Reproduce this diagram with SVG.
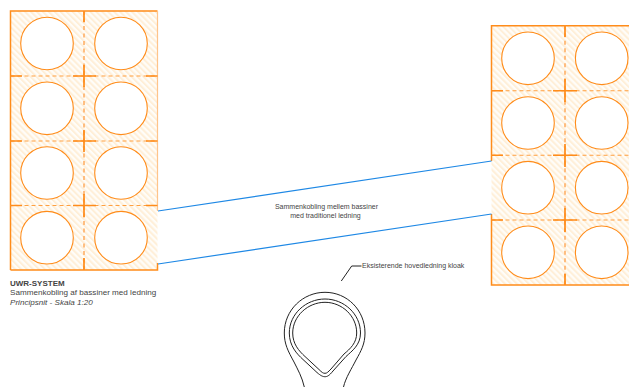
<svg xmlns="http://www.w3.org/2000/svg" width="629" height="387" viewBox="0 0 629 387">
<style>
text{font-family:"Liberation Sans",Arial,sans-serif;fill:#444}
.c{fill:#fff;stroke:#ff8c1a;stroke-width:1.1}
.s{fill:none;stroke:#ff8c1a;stroke-width:1.5}
.t{fill:none;stroke:#ff8c1a;stroke-width:1.7}
.d{fill:none;stroke:#ffa040;stroke-width:1.1;stroke-dasharray:4 3}
.v{fill:none;stroke:#ffb066;stroke-width:1.6;stroke-dasharray:4 3.500}
.b{fill:none;stroke:#1e88e5;stroke-width:1.2}
.p{fill:none;stroke:#222;stroke-width:1}
.h{fill:url(#hatch)}
</style>
<defs>
<pattern id="hatch" width="4.200" height="4.200" patternUnits="userSpaceOnUse" patternTransform="rotate(-45)">
<rect width="4.200" height="4.200" fill="#fffdf9"/>
<rect width="2" height="4.200" fill="#ffefd8"/>
</pattern>
</defs>
<g id="left-block">
<rect class="h" x="10.500" y="11" width="147" height="259"/>
<path class="s" d="M10.500 270V11H157.500"/>
<path d="M157.500 11V211" fill="none" stroke="#ffc48a" stroke-width="1.200"/>
<path class="s" d="M157.500 263V270H10.500"/>
<path class="d" d="M10.500 76H157.500M10.500 141H157.500M10.500 205.500H157.500"/>
<path class="v" d="M84 11V270"/>
<path class="s" d="M10.500 76H22M73 76H96M146 76H157.500M10.500 141H22M73 141H96M146 141H157.500M10.500 205.500H22M73 205.500H96M146 205.500H157.500"/>
<path class="t" d="M84 11V22M84 65V87M84 130V152M84 194V217M84 258V270"/>
<circle class="c" cx="47" cy="43.500" r="26.300"/><circle class="c" cx="121" cy="43.500" r="26.300"/>
<circle class="c" cx="47" cy="108.300" r="26.300"/><circle class="c" cx="121" cy="108.300" r="26.300"/>
<circle class="c" cx="47" cy="173" r="26.300"/><circle class="c" cx="121" cy="173" r="26.300"/>
<circle class="c" cx="47" cy="237.700" r="26.300"/><circle class="c" cx="121" cy="237.700" r="26.300"/>
</g>
<g id="right-block">
<rect class="h" x="491.500" y="25.700" width="138" height="259.300"/>
<path class="s" d="M491.500 161V25.700H629M491.500 214V285H629"/>
<path class="d" d="M491.500 90.700H629M491.500 155.300H629M491.500 220H629"/>
<path class="v" d="M565 25.700V285"/>
<path class="s" d="M491.500 90.700H503M553 90.700H577M491.500 155.300H503M553 155.300H577M491.500 220H503M553 220H577"/>
<path class="t" d="M565 25.700V37M565 79V102M565 144V167M565 208V232M565 274V285"/>
<circle class="c" cx="528" cy="58.300" r="26.300"/><circle class="c" cx="601.700" cy="58.300" r="26.300"/>
<circle class="c" cx="528" cy="123" r="26.300"/><circle class="c" cx="601.700" cy="123" r="26.300"/>
<circle class="c" cx="528" cy="187.700" r="26.300"/><circle class="c" cx="601.700" cy="187.700" r="26.300"/>
<circle class="c" cx="528" cy="252.300" r="26.300"/><circle class="c" cx="601.700" cy="252.300" r="26.300"/>
</g>
<g id="connectors">
<path class="b" d="M158 211L491.500 161M158 264L491.500 214"/>
<path class="p" stroke-width="0.800" d="M341.300 281L351.700 266H361.500"/>
</g>
<g id="pipe">
<path class="p" d="M304.300 387C302 377 298 370 294 362C288 351 284.300 344 284.300 333C284.300 310 303 292.300 325 292.300C347 292.300 365 310 365 333C365 344 361 351 356 360C352 368 345.500 378 343.500 387"/>
<path class="p" d="M289.300 333C289.300 314 306 299 325 299C344 299 360.500 314 360.500 333C360.500 345 352 351 346 356.500L333 371C329 376 327 376.700 325 376.700C323 376.700 321 376 317 372.500L303 359.500C297 354 289.300 346 289.300 333Z"/>
<path class="p" d="M292.700 333C292.700 316 308 302.300 325 302.300C342 302.300 356.700 316 356.700 333C356.700 343 350 349 344 354L331 369C328 372 327 373.300 325 373.300C323 373.300 322 372.500 319 369.500L305 356.500C299 351 292.700 344 292.700 333Z"/>
</g>
<g id="labels">
<text x="10" y="286" font-size="8" font-weight="bold">UWR-SYSTEM</text>
<text x="10" y="295" font-size="8.100">Sammenkobling af bassiner med ledning</text>
<text x="10" y="305" font-size="8.100" font-style="italic">Principsnit - Skala 1:20</text>
<text x="326.500" y="209" font-size="7" text-anchor="middle">Sammenkobling mellem bassiner</text>
<text x="325.500" y="218" font-size="7" text-anchor="middle">med traditionel ledning</text>
<text x="362" y="268" font-size="7">Eksisterende hovedledning kloak</text>
</g>
</svg>
